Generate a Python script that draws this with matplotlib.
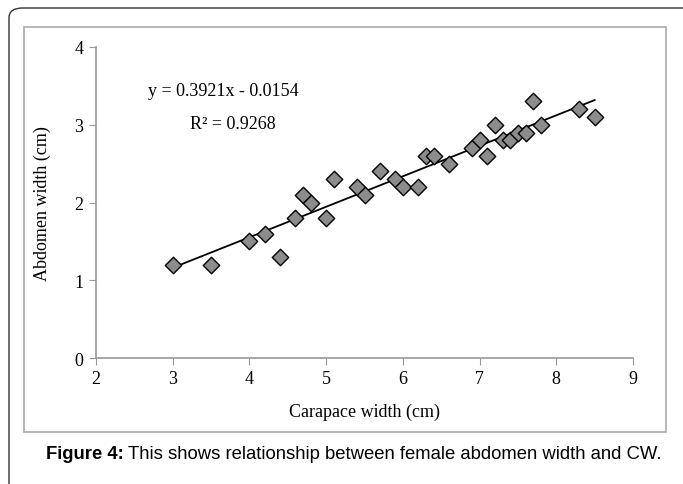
import numpy as np
import matplotlib.pyplot as plt
from matplotlib.patches import FancyBboxPatch, Rectangle

# carapace width (cm) and abdomen width (cm), female crabs
carapace_w = [3.0, 3.5, 4.0, 4.2, 4.4, 4.6, 4.7, 4.8, 5.0, 5.1, 5.4, 5.5, 5.7,
              5.9, 6.0, 6.2, 6.3, 6.4, 6.6, 6.9, 7.0, 7.1, 7.2, 7.3, 7.4, 7.5,
              7.6, 7.7, 7.8, 8.3, 8.5]
abdomen_w = [1.2, 1.2, 1.5, 1.6, 1.3, 1.8, 2.1, 2.0, 1.8, 2.3, 2.2, 2.1, 2.4,
             2.3, 2.2, 2.2, 2.6, 2.6, 2.5, 2.7, 2.8, 2.6, 3.0, 2.8, 2.8, 2.9,
             2.9, 3.3, 3.0, 3.2, 3.1]
slope = 0.3921
intercept = -0.0154
r2 = 0.9268
x_ticks = [2, 3, 4, 5, 6, 7, 8, 9]
y_ticks = [0, 1, 2, 3, 4]

serif = 'Liberation Serif'
sans = 'Liberation Sans'

fig = plt.figure(figsize=(6.83, 4.85), dpi=100)
W, H = 683, 485

# outer rounded frame and inner chart-area frame
outer = FancyBboxPatch((9 / W, -0.05), 1.2, 1 - 9 / H + 0.05,
                       boxstyle='round,pad=0,rounding_size=0.02',
                       transform=fig.transFigure, fill=False,
                       edgecolor='#333333', linewidth=1.0)
fig.patches.append(outer)
inner = Rectangle((24 / W, 1 - 433 / H), (666 - 24) / W, (433 - 28) / H,
                  transform=fig.transFigure, fill=False,
                  edgecolor='#aaaaaa', linewidth=1.2)
fig.patches.append(inner)

ax = fig.add_axes([96 / W, 1 - 359 / H, (633 - 96) / W, (359 - 48) / H])

ax.scatter(carapace_w, abdomen_w, marker='D', s=70, facecolor='#8c8c8c',
           edgecolor='black', linewidth=1.0, zorder=3)

xl = np.array([min(carapace_w), max(carapace_w)])
ax.plot(xl, slope * xl + intercept, color='black', linewidth=1.3, zorder=2)

ax.set_xlim(2, 9)
ax.set_ylim(0, 4)
ax.set_xticks(x_ticks)
ax.set_yticks(y_ticks)
ax.tick_params(direction='out', length=5, color='#999999', labelsize=13, pad=4)
for lab in ax.get_xticklabels() + ax.get_yticklabels():
    lab.set_fontfamily(serif)
for s in ['top', 'right']:
    ax.spines[s].set_visible(False)
for s in ['left', 'bottom']:
    ax.spines[s].set_color('#999999')
    ax.spines[s].set_linewidth(1.2)

ax.set_xlabel('Carapace width (cm)', fontfamily=serif, fontsize=13, labelpad=11)
ax.set_ylabel('Abdomen width (cm)', fontfamily=serif, fontsize=13, labelpad=17)

ax.text(2.68, 3.44, f'y = {slope}x - {abs(intercept)}', fontfamily=serif,
        fontsize=13, va='center')
ax.text(3.23, 3.01, f'R² = {r2}', fontfamily=serif, fontsize=13, va='center')

fig.text(46 / W, 1 - 455 / H, 'Figure 4:', fontfamily=sans,
         fontweight='bold', fontsize=13.3, va='center')
fig.text(128 / W, 1 - 455 / H,
         'This shows relationship between female abdomen width and CW.',
         fontfamily=sans, fontsize=13.3, va='center')

fig.savefig('out.png', dpi=100)
